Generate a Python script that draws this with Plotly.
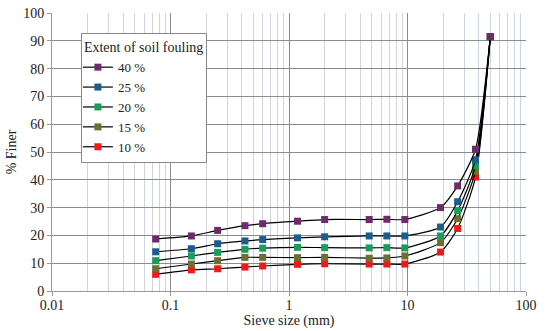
import plotly.graph_objects as go

sieve = [0.075, 0.15, 0.25, 0.425, 0.6, 1.18, 2.0, 4.75, 6.7, 9.5, 19, 26.5, 37.5, 50]

series_names = ["40 %", "25 %", "20 %", "15 %", "10 %"]
finer_40 = [18.7, 19.8, 21.8, 23.5, 24.2, 25.1, 25.7, 25.7, 25.8, 25.7, 30.0, 37.8, 51.0, 91.5]
finer_25 = [14.1, 15.2, 17.0, 18.0, 18.5, 19.1, 19.5, 19.8, 19.8, 19.8, 23.0, 32.1, 47.2, 91.5]
finer_20 = [10.9, 12.6, 13.9, 15.0, 15.4, 15.7, 15.6, 15.5, 15.6, 15.5, 19.8, 28.9, 45.1, 91.5]
finer_15 = [8.0, 9.7, 10.9, 12.1, 12.1, 12.0, 12.1, 11.8, 11.9, 12.6, 17.4, 26.0, 43.1, 91.5]
finer_10 = [6.0, 7.6, 8.0, 8.6, 9.0, 9.6, 9.8, 9.7, 9.7, 9.7, 14.0, 22.5, 41.0, 91.5]
colors = ["#6E2A6A", "#1B5E8E", "#1A9C5A", "#6E6E32", "#F01818"]

x_tickvals = [0.01, 0.1, 1, 10, 100]
x_ticktext = ["0.01", "0.1", "1", "10", "100"]
y_tickvals = [0, 10, 20, 30, 40, 50, 60, 70, 80, 90, 100]

FONT = '"Liberation Serif", "Times New Roman", serif'

fig = go.Figure()
data = [finer_40, finer_25, finer_20, finer_15, finer_10]
# draw from bottom series up so the 40 % markers sit on top
for name, ys, c in reversed(list(zip(series_names, data, colors))):
    fig.add_trace(go.Scatter(
        x=sieve, y=ys, name=name, mode="lines+markers",
        line=dict(color="black", width=1.2, shape="spline", smoothing=0.6),
        marker=dict(symbol="square", size=7, color=c, line=dict(width=0)),
    ))

fig.update_layout(
    width=550, height=331,
    margin=dict(l=52, r=24, t=13, b=40),
    paper_bgcolor="white", plot_bgcolor="white",
    font=dict(family=FONT, size=14, color="#222"),
    showlegend=True,
    legend=dict(
        title=dict(text="Extent of soil fouling", font=dict(family=FONT, size=14)),
        traceorder="reversed",
        x=0.061, y=0.928, xanchor="left", yanchor="top",
        bgcolor="white", bordercolor="#888", borderwidth=1,
        font=dict(family=FONT, size=13),
        itemwidth=30, tracegroupgap=0, indentation=-4,
    ),
    xaxis=dict(
        type="log", range=[-2, 2], automargin=False,
        tickvals=x_tickvals, ticktext=x_ticktext,
        showgrid=True, gridcolor="#8c8c8c", gridwidth=1,
        showline=True, linecolor="#999", ticks="outside", ticklen=4, tickcolor="#999",
        ticklabelstandoff=-3,
        minor=dict(dtick="D1", showgrid=True, gridcolor="#cfd3e2", gridwidth=1, ticks=""),
        title=dict(text="Sieve size (mm)", font=dict(family=FONT, size=14), standoff=0),
        tickfont=dict(family=FONT, size=14),
        mirror=False, zeroline=False,
    ),
    yaxis=dict(
        range=[0, 100], tickvals=y_tickvals, automargin=False,
        showgrid=True, gridcolor="#8c8c8c", gridwidth=1,
        showline=True, linecolor="#999", ticks="outside", ticklen=4, tickcolor="#999",
        ticklabelstandoff=0,
        title=dict(text="% Finer", font=dict(family=FONT, size=14), standoff=3),
        tickfont=dict(family=FONT, size=14),
        zeroline=False,
    ),
)

fig.write_html("out.html", config={"displayModeBar": False},
               post_script="document.body.style.margin='0';")
